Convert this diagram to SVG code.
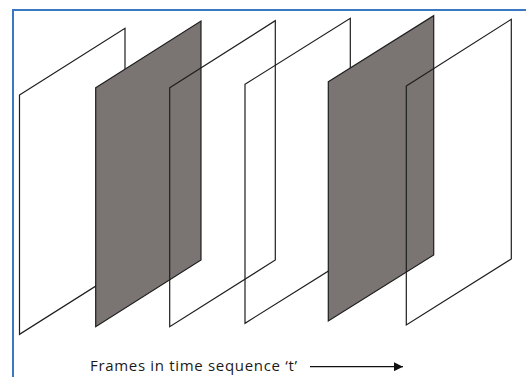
<svg xmlns="http://www.w3.org/2000/svg" width="526" height="377" viewBox="0 0 526 377">
<style>
.frame{stroke:#1e1e1e;stroke-width:1.2;stroke-linejoin:miter}
.clear{fill:none}
.white{fill:#ffffff}
.gray{fill:#7a7472}
.label{font-family:"Open Sans","Liberation Sans",sans-serif;font-size:15px;fill:#1a1a1a}
</style>
<defs>
<marker id="ah" viewBox="0 0 10 10" refX="10" refY="5" markerWidth="11" markerHeight="9" markerUnits="userSpaceOnUse" orient="auto">
<path d="M0,0 L10,5 L0,10 z" fill="#111"/>
</marker>
</defs>
<rect x="0" y="0" width="526" height="377" fill="#ffffff"/>
<path d="M13,377 L13,10 L526,10" fill="none" stroke="#3a78c4" stroke-width="2"/>
<g id="frame1"><polygon class="frame white" points="19.5,95 125,28.3 125,267.6 19.5,334.3"/></g>
<g id="frame2"><polygon class="frame gray" points="95.7,87.7 201,21 201,260 95.7,326.7"/></g>
<g id="frame3"><polygon class="frame clear" points="169.7,87.7 275.3,20.7 275.3,260 169.7,326.7"/></g>
<g id="frame4"><polygon class="frame clear" points="245,84.3 350.3,18.3 350.3,257.3 245,323.3"/></g>
<g id="frame5"><polygon class="frame gray" points="328.3,81.7 433.7,15.7 433.7,255 328.3,321"/></g>
<g id="frame6"><polygon class="frame clear" points="406.3,86 511.3,19.3 511.3,259 406.3,325"/></g>
<g id="connectors">
<line x1="310" y1="366.7" x2="403" y2="366.7" stroke="#111" stroke-width="1.2" marker-end="url(#ah)"/>
</g>
<text class="label" x="90" y="371" textLength="207" lengthAdjust="spacing">Frames in time sequence ‘t’</text>
</svg>
